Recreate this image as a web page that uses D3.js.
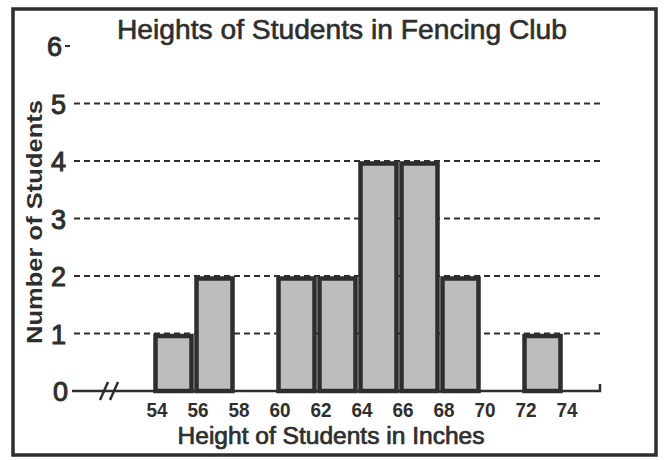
<!DOCTYPE html>
<html>
<head>
<meta charset="utf-8">
<script src="https://cdn.jsdelivr.net/npm/d3@7"></script>
<style>
  body { margin: 0; background: #fff; }
  svg { display: block; font-family: "Liberation Sans", Arial, sans-serif; }
</style>
</head>
<body>
<svg id="chart" width="665" height="460"></svg>
<script>
// bin starts (inches), each bin is 2 inches wide
var binStarts = [54, 56, 58, 60, 62, 64, 66, 68, 70, 72];
var counts    = [1, 2, 0, 2, 2, 4, 4, 2, 0, 1];
var xTicks = [54, 56, 58, 60, 62, 64, 66, 68, 70, 72, 74];
var yTicks = [0, 1, 2, 3, 4, 5, 6];
var binWidth = 2;

var svg = d3.select("#chart");
var ink = "#2e2e2e";

var x = d3.scaleLinear().domain([54, 74]).range([153, 563]);
var y = d3.scaleLinear().domain([0, 6]).range([391, 46]);

// outer frame
svg.append("rect")
    .attr("x", 13).attr("y", 9)
    .attr("width", 643).attr("height", 446)
    .attr("fill", "#fff")
    .attr("stroke", ink)
    .attr("stroke-width", 3.5);

// title
svg.append("text")
    .attr("x", 342).attr("y", 39)
    .attr("text-anchor", "middle")
    .attr("font-size", 27)
    .attr("textLength", 450)
    .attr("lengthAdjust", "spacingAndGlyphs")
    .attr("fill", ink)
    .attr("stroke", ink)
    .attr("stroke-width", 0.6)
    .text("Heights of Students in Fencing Club");

// dashed grid lines
svg.selectAll("line.grid")
    .data(yTicks.filter(function(d){ return d > 0 && d < 6; }))
    .enter()
    .append("line")
    .attr("class", "grid")
    .attr("x1", 74).attr("x2", 600)
    .attr("y1", function(d){ return y(d); })
    .attr("y2", function(d){ return y(d); })
    .attr("stroke", ink)
    .attr("stroke-width", 2.2)
    .attr("stroke-dasharray", "6,4");

// tick at 6
svg.append("line")
    .attr("x1", 65).attr("x2", 70)
    .attr("y1", y(6)).attr("y2", y(6))
    .attr("stroke", ink).attr("stroke-width", 2);

// y labels
svg.selectAll("text.ylab")
    .data(yTicks)
    .enter()
    .append("text")
    .attr("class", "ylab")
    .attr("x", function(d){ return d === 6 ? 62 : (d === 0 ? 68 : 66); })
    .attr("y", function(d){ return y(d) + 10; })
    .attr("text-anchor", "end")
    .attr("font-size", 27)
    .attr("fill", ink)
    .attr("stroke", ink)
    .attr("stroke-width", 1)
    .text(function(d){ return d; });

// bars
svg.selectAll("rect.bar")
    .data(binStarts.map(function(b, i){ return {start: b, n: counts[i]}; })
        .filter(function(d){ return d.n > 0; }))
    .enter()
    .append("rect")
    .attr("class", "bar")
    .attr("x", function(d){ return x(d.start) + 2.5; })
    .attr("width", function(d){ return x(d.start + binWidth) - x(d.start) - 5; })
    .attr("y", function(d){ return y(d.n) + 2.5; })
    .attr("height", function(d){ return y(0) - y(d.n) - 2.5; })
    .attr("fill", "#bdbdbd")
    .attr("stroke", ink)
    .attr("stroke-width", 4.5);

// x axis with break
var axis = svg.append("g").attr("stroke", ink).attr("stroke-width", 2.5).attr("fill", "none");
axis.append("path").attr("d", "M72," + y(0) + "H600V" + (y(0) - 7));
axis.append("line").attr("x1", 100).attr("x2", 108).attr("y1", y(0) + 9).attr("y2", y(0) - 9);
axis.append("line").attr("x1", 110).attr("x2", 118).attr("y1", y(0) + 9).attr("y2", y(0) - 9);

// x tick labels
svg.selectAll("text.xlab")
    .data(xTicks)
    .enter()
    .append("text")
    .attr("class", "xlab")
    .attr("x", function(d){ return x(d) + 4; })
    .attr("y", 417)
    .attr("text-anchor", "middle")
    .attr("font-size", 21)
    .attr("font-weight", "bold")
    .attr("textLength", 21)
    .attr("lengthAdjust", "spacingAndGlyphs")
    .attr("fill", ink)
    .text(function(d){ return d; });

// axis titles
svg.append("text")
    .attr("x", 331).attr("y", 444)
    .attr("text-anchor", "middle")
    .attr("font-size", 23)
    .attr("textLength", 307)
    .attr("lengthAdjust", "spacingAndGlyphs")
    .attr("fill", ink)
    .attr("stroke", ink)
    .attr("stroke-width", 0.7)
    .text("Height of Students in Inches");

svg.append("text")
    .attr("transform", "translate(42,222) rotate(-90)")
    .attr("text-anchor", "middle")
    .attr("font-size", 22)
    .attr("font-weight", "bold")
    .attr("textLength", 244)
    .attr("lengthAdjust", "spacingAndGlyphs")
    .attr("fill", ink)
    .text("Number of Students");
</script>
</body>
</html>
